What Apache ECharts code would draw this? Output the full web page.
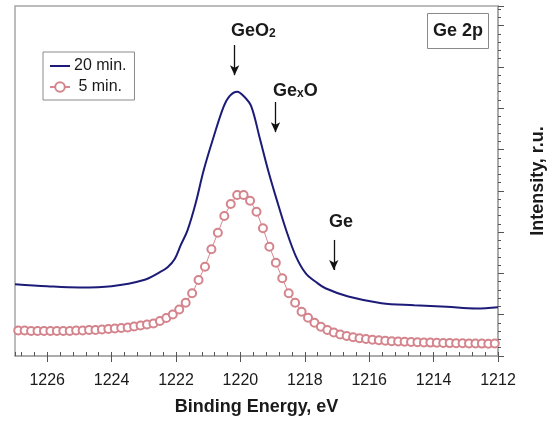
<!DOCTYPE html>
<html><head><meta charset="utf-8">
<script src="https://cdn.jsdelivr.net/npm/echarts@6/dist/echarts.min.js"></script>
<style>html,body{margin:0;padding:0;background:#fff}#c{width:555px;height:423px}</style>
</head><body><div id="c"></div>
<script>
// 5 min. spectrum (circles), binding energy (eV)
const energies5 = [1226.9,1226.7,1226.5,1226.3,1226.1,1225.9,1225.7,1225.5,1225.3,1225.1,
  1224.9,1224.7,1224.5,1224.3,1224.1,1223.9,1223.7,1223.5,1223.3,1223.1,
  1222.9,1222.7,1222.5,1222.3,1222.1,1221.9,1221.7,1221.5,1221.3,1221.1,
  1220.9,1220.7,1220.5,1220.3,1220.1,1219.9,1219.7,1219.5,1219.3,1219.1,
  1218.9,1218.7,1218.5,1218.3,1218.1,1217.9,1217.7,1217.5,1217.3,1217.1,
  1216.9,1216.7,1216.5,1216.3,1216.1,1215.9,1215.7,1215.5,1215.3,1215.1,
  1214.9,1214.7,1214.5,1214.3,1214.1,1213.9,1213.7,1213.5,1213.3,1213.1,
  1212.9,1212.7,1212.5,1212.3,1212.1];
const values5 = [6.17,6.17,6.05,6.05,6.05,6.05,6.05,6.05,6.05,6.17,
  6.17,6.30,6.30,6.42,6.54,6.66,6.78,6.90,7.14,7.38,
  7.63,7.87,8.47,9.20,10.05,11.26,12.91,15.18,18.40,21.62,
  25.84,29.85,33.90,36.80,38.98,38.98,37.60,34.94,30.92,26.46,
  22.59,18.81,15.18,12.91,10.73,9.27,8.06,7.09,6.30,5.69,
  5.21,4.84,4.53,4.29,4.12,3.95,3.80,3.68,3.58,3.51,
  3.44,3.39,3.34,3.29,3.24,3.20,3.15,3.12,3.10,3.08,
  3.05,3.03,3.00,2.98,3.03];
// 20 min. spectrum (line)
const energies20 = [1227.0,1226.0,1225.0,1224.0,1223.0,1222.5,1222.26,1222.04,1221.85,1221.64,
  1221.39,1221.14,1220.83,1220.52,1220.33,1220.10,1219.87,1219.66,1219.41,1219.14,
  1218.84,1218.58,1218.28,1217.97,1217.65,1217.36,1216.65,1215.62,1214.60,1213.59,
  1212.67,1212.0];
const values20 = [17.4,16.9,16.6,16.9,18.4,20.3,21.5,23.5,26.9,30.5,
  37.0,45.0,53.1,60.4,63.0,64.0,62.7,60.4,53.1,45.0,
  37.0,30.5,24.2,20.0,17.9,16.4,14.4,12.8,12.3,11.9,
  11.5,11.8];
const xTickLabels = [1226,1224,1222,1220,1218,1216,1214,1212];
const seriesNames = ['20 min.', ' 5 min.'];
// peak marker arrows: [energy, top, bottom]
const arrowGeO2 = [1220.18, 75.3, 68.0];
const arrowGexO = [1218.91, 61.5, 54.2];
const arrowGe = [1217.10, 28.1, 20.8];

const FONT = 'Liberation Sans, Arial, Helvetica, sans-serif';
const TXT = '#1a1a1a';
const X_MIN = 1212, X_MAX = 1227, Y_MIN = 0, Y_MAX = 84.75;

const chart = echarts.init(document.getElementById('c'), null, {renderer: 'canvas'});
const pairs = (xs, ys) => xs.map((x, i) => [x, ys[i]]);
const arrow = a => [{coord: [a[0], a[1]]}, {coord: [a[0], a[2]]}];
const sub = {fontSize: 12, fontWeight: 'bold', fill: TXT, fontFamily: FONT, lineHeight: 12, padding: [10, 0, 0, 0], verticalAlign: 'bottom'};
const main = {fontSize: 18, fontWeight: 'bold', fill: TXT, fontFamily: FONT, lineHeight: 26, verticalAlign: 'bottom'};

chart.setOption({
  animation: false,
  backgroundColor: '#fff',
  textStyle: {fontFamily: FONT},
  grid: {left: 15, right: 50, top: 6, bottom: 67, show: true, borderColor: '#a6a6a6', borderWidth: 1.5, containLabel: false},
  title: {
    text: 'Ge 2p', left: 427, top: 13, padding: [9, 6, 9, 6],
    borderColor: '#8a8a8a', borderWidth: 1,
    textStyle: {fontFamily: FONT, fontSize: 18, fontWeight: 'bold', color: TXT}
  },
  legend: {
    left: 43, top: 52, orient: 'vertical',
    padding: [6, 8, 5, 6], itemGap: 5, itemWidth: 20, itemHeight: 12,
    borderColor: '#8a8a8a', borderWidth: 1,
    textStyle: {fontFamily: FONT, fontSize: 16, color: TXT, padding: [0, 0, 0, -1]},
    data: [{name: seriesNames[0], icon: 'path://M0,0 L20,0 L20,2 L0,2 Z'}, {name: seriesNames[1]}]
  },
  xAxis: [{
    type: 'value', min: X_MIN, max: X_MAX, inverse: true, interval: 2,
    axisLine: {show: true, lineStyle: {color: '#a6a6a6', width: 1.5}},
    axisTick: {show: true, inside: false, length: 6, lineStyle: {color: '#555', width: 1}},
    axisLabel: {margin: 17, fontSize: 16, color: TXT, fontFamily: FONT,
      showMaxLabel: false,
      formatter: v => xTickLabels.indexOf(Math.round(v)) >= 0 && Math.abs(v - Math.round(v)) < 1e-6 ? String(v) : ''},
    splitLine: {show: false},
    name: 'Binding Energy, eV', nameLocation: 'middle', nameGap: 42,
    nameTextStyle: {fontFamily: FONT, fontSize: 18, fontWeight: 'bold', color: TXT}
  }, {
    type: 'value', min: X_MIN, max: X_MAX, inverse: true, interval: 0.4, position: 'bottom',
    axisLine: {show: false},
    axisTick: {show: true, inside: true, length: 4, lineStyle: {color: '#555', width: 1}},
    axisLabel: {show: false}, splitLine: {show: false}
  }],
  yAxis: [{
    type: 'value', min: Y_MIN, max: Y_MAX, interval: 10, position: 'right',
    axisLine: {show: true, lineStyle: {color: '#a6a6a6', width: 1.5}},
    axisTick: {show: true, inside: false, length: 6, lineStyle: {color: '#555', width: 1}},
    axisLabel: {show: false}, splitLine: {show: false},
    name: 'Intensity, r.u.', nameLocation: 'middle', nameGap: 31, nameRotate: 90,
    nameTextStyle: {fontFamily: FONT, fontSize: 18, fontWeight: 'bold', color: TXT}
  }, {
    type: 'value', min: Y_MIN, max: Y_MAX, interval: 2, position: 'right', offset: 0,
    axisLine: {show: false},
    axisTick: {show: true, inside: false, length: 3, lineStyle: {color: '#555', width: 1}},
    axisLabel: {show: false}, splitLine: {show: false}
  }],
  series: [{
    name: seriesNames[0], type: 'line', xAxisIndex: 0, yAxisIndex: 0,
    data: pairs(energies20, values20), smooth: 0.35, showSymbol: false, symbol: 'none',
    lineStyle: {color: '#1c1c78', width: 2}, itemStyle: {color: '#1c1c78'},
    markLine: {
      silent: true, symbol: ['none', 'arrow'], symbolSize: [7, 10],
      label: {show: false},
      lineStyle: {color: '#111', width: 1.3, type: 'solid'},
      data: [arrow(arrowGeO2), arrow(arrowGexO), arrow(arrowGe)]
    },
    z: 3
  }, {
    name: seriesNames[1], type: 'line', xAxisIndex: 0, yAxisIndex: 0,
    data: pairs(energies5, values5), symbol: 'emptyCircle', symbolSize: 8, showSymbol: true,
    lineStyle: {color: '#d88890', width: 1}, itemStyle: {color: '#d4848c', borderWidth: 1.1},
    z: 2
  }],
  graphic: [
    {type: 'text', left: 231, top: 18, style: {text: '{a|GeO}{s|2}', fontFamily: FONT, rich: {a: main, s: sub}}},
    {type: 'text', left: 273, top: 78, style: {text: '{a|Ge}{s|x}{a|O}', fontFamily: FONT, rich: {a: main, s: sub}}},
    {type: 'text', left: 329, top: 213, style: {text: 'Ge', fontSize: 18, fontWeight: 'bold', fill: TXT, fontFamily: FONT}}
  ]
});
</script>
</body></html>
